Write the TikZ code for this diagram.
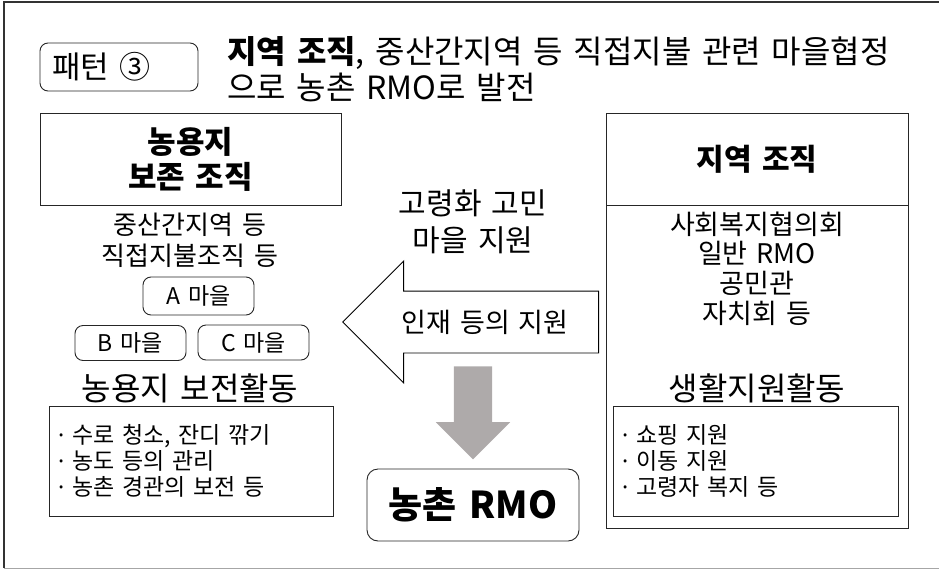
\documentclass[tikz,border=0pt]{standalone}
\usepackage{fontspec}
\setmainfont{Noto Sans CJK KR}[WordSpace=1.5]
\newfontfamily\latinfont{Noto Sans}
\usepackage{xcolor}
\usetikzlibrary{shapes.arrows}
\definecolor{arrowgray}{RGB}{174,170,170}

\begin{document}
\begin{tikzpicture}[x=1pt,y=-1pt]
\tikzstyle{box} =[draw=black!85, line width=0.9pt, inner sep=0pt, align=center]
\tikzstyle{rbox} =[box, rounded corners=8pt]
\tikzstyle{txt} =[inner sep=0pt, align=center]
\tikzstyle{bullets} =[inner sep=0pt, align=left, anchor=west, font=\fontsize{23}{26}\selectfont]

\useasboundingbox (0,0) rectangle (939,570);
\draw[line width=1.5pt, black!80] (939,2) -- (4,2) -- (4,568);
\draw[line width=1pt, black!35] (4,568) -- (939,568);

% title
\node[rbox, minimum width=158pt, minimum height=48pt](pat) at (119,67){};
\node[txt, anchor=west, font=\fontsize{31}{30}\selectfont](pattxt) at (52,67){패턴 ③};
\node[txt, anchor=west, align=left, font=\fontsize{32}{36}\selectfont](title) at (227,69){\textbf{지역 조직}, 중산간지역 등 직접지불 관련 마을협정\\으로 농촌 RMO로 발전};

% left side
\node[box, minimum width=301pt, minimum height=92pt, font=\bfseries\fontsize{31}{35}\selectfont](farm) at (190.5,159){농용지\\보존 조직};
\node[txt, font=\fontsize{26}{31}\selectfont](farmsub) at (190,240){중산간지역 등\\직접지불조직 등};
\node[rbox, minimum width=111pt, minimum height=38pt, font=\fontsize{23}{24}\selectfont](va) at (198.5,296){A 마을};
\node[rbox, minimum width=111pt, minimum height=35pt, font=\fontsize{23}{24}\selectfont](vb) at (130.5,343){B 마을};
\node[rbox, minimum width=111pt, minimum height=35pt, font=\fontsize{23}{24}\selectfont](vc) at (253.5,342.5){C 마을};
\node[txt, font=\fontsize{32}{32}\selectfont](farmact) at (190,388){농용지 보전활동};
\node[box, minimum width=284pt, minimum height=110pt](farmlist) at (191,461){};
\node[bullets](farmitems) at (58,461){{\latinfont ·} 수로 청소, 잔디 깎기\\{\latinfont ·} 농도 등의 관리\\{\latinfont ·} 농촌 경관의 보전 등};

% right side
\node[box, minimum width=302pt, minimum height=92pt, font=\bfseries\fontsize{30}{32}\selectfont](orghead) at (757,159){지역 조직};
\node[box, minimum width=302pt, minimum height=323pt](orgbody) at (757,366.5){};
\node[txt, font=\fontsize{27}{29.7}\selectfont](orgsub) at (757,268.5){사회복지협의회\\일반 RMO\\공민관\\자치회 등};
\node[txt, font=\fontsize{32}{32}\selectfont](orgact) at (757,388){생활지원활동};
\node[box, minimum width=285pt, minimum height=110pt](orglist) at (755.5,461){};
\node[bullets](orgitems) at (622,461){{\latinfont ·} 쇼핑 지원\\{\latinfont ·} 이동 지원\\{\latinfont ·} 고령자 복지 등};

% middle
\node[txt, font=\fontsize{30}{37}\selectfont](help) at (473,221.5){고령화 고민\\마을 지원};
\node[single arrow, draw=black, line width=0.9pt, fill=white, rotate=180, anchor=tip, minimum height=256pt, inner xsep=0pt, inner ysep=30.5pt, single arrow head extend=30pt](staff) at (342,322){};
\node[txt, font=\fontsize{27}{28}\selectfont](stafftxt) at (485,322){인재 등의 지원};
\node[rbox, rounded corners=11pt, minimum width=212pt, minimum height=72pt, font=\bfseries\fontsize{37}{38}\selectfont](rmo) at (473,505){농촌 RMO};
\node[single arrow, draw=none, fill=arrowgray, rotate=-90, anchor=tip, minimum height=93pt, inner xsep=0pt, inner ysep=19pt, single arrow head extend=18pt](down) at ([yshift=9pt]rmo.north){};
\end{tikzpicture}
\end{document}
